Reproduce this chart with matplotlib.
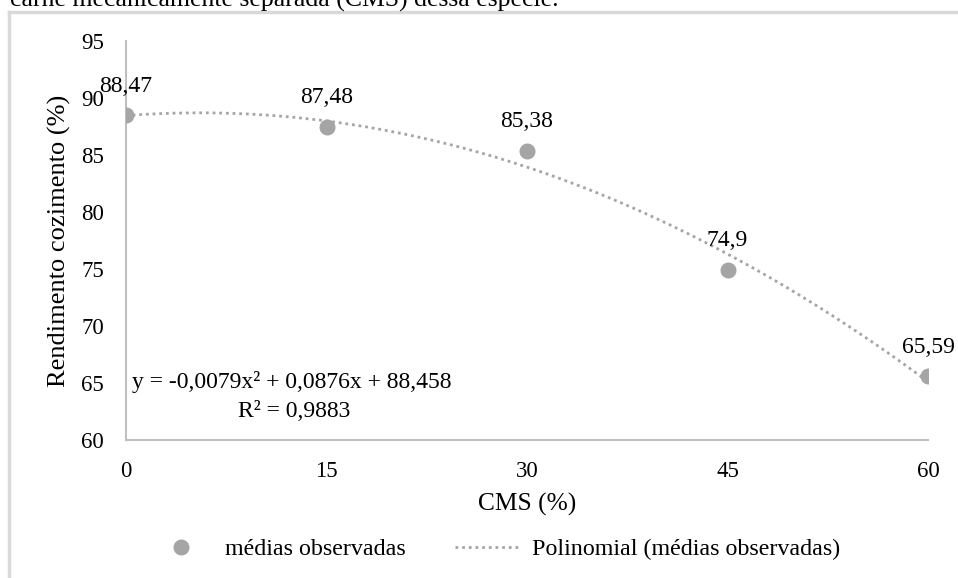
import numpy as np
import matplotlib
matplotlib.use("Agg")
import matplotlib.pyplot as plt
from matplotlib.lines import Line2D

plt.rcParams['font.family'] = ['Liberation Serif', 'DejaVu Serif']

cms = [0, 15, 30, 45, 60]
rendimento = [88.47, 87.48, 85.38, 74.9, 65.59]
labels = ["88,47", "87,48", "85,38", "74,9", "65,59"]
xticks = [0, 15, 30, 45, 60]
yticks = [60, 65, 70, 75, 80, 85, 90, 95]

W, H = 958, 578
fig = plt.figure(figsize=(W / 100, H / 100), dpi=100)
ax = fig.add_axes([126 / W, 1 - 440 / H, (928 - 126) / W, (440 - 41) / H])

gray = '#A5A5A5'
dot = (0, (1, 1.4))
coef = np.polyfit(cms, rendimento, 2)
xs = np.linspace(0, 60, 300)
ax.plot(xs, np.polyval(coef, xs), linestyle=dot, color=gray, lw=2.0,
        dash_capstyle='butt', zorder=2)
ax.plot(cms, rendimento, 'o', color=gray, ms=10.5, zorder=3)

for x, y, t in zip(cms, rendimento, labels):
    ax.annotate(t, (x, y), xytext=(0, 21), textcoords='offset points',
                ha='center', va='center', fontsize=17, color='#000000')

ax.set_xlim(0, 60)
ax.set_ylim(60, 95)
ax.set_xticks(xticks)
ax.set_yticks(yticks)
ax.tick_params(length=0, labelsize=16.5, colors='#000000')
ax.tick_params(axis='y', pad=16)
ax.tick_params(axis='x', pad=15)
for s in ['top', 'right']:
    ax.spines[s].set_visible(False)
for s in ['left', 'bottom']:
    ax.spines[s].set_color('#BFBFBF')
    ax.spines[s].set_linewidth(1.5)

ax.set_xlabel('CMS (%)', fontsize=18.3, labelpad=8)
ax.set_ylabel('Rendimento cozimento (%)', fontsize=19, labelpad=7)

ax.text(0.45, 65.09, 'y = -0,0079x² + 0,0876x + 88,458', fontsize=17,
        ha='left', va='center')
ax.text(12.57, 62.46, 'R² = 0,9883', fontsize=17, ha='center', va='center')

handles = [
    Line2D([], [], marker='o', color=gray, ls='none', ms=10.5),
    Line2D([], [], color=gray, ls=dot, lw=2.0, dash_capstyle='butt'),
]
fig.legend(handles, ['médias observadas', 'Polinomial (médias observadas)'],
           loc='center', bbox_to_anchor=(494 / W, 1 - 549 / H), ncol=2,
           frameon=False, fontsize=17.3, handlelength=2.75, columnspacing=2.05,
           handletextpad=0.45)

# frame lines of the chart area
fig.add_artist(Line2D([9 / W, 9 / W], [0, 1 - 12 / H], color='#D9D9D9', lw=2.5,
                      transform=fig.transFigure))
fig.add_artist(Line2D([9 / W, 1], [1 - 12 / H, 1 - 12 / H], color='#D9D9D9', lw=2.5,
                      transform=fig.transFigure))

fig.text(10 / W, 1 - 7 / H, 'carne mecanicamente separada (CMS) dessa espécie.',
         fontsize=18.5, ha='left', va='baseline')

fig.savefig('out.png', dpi=100)
